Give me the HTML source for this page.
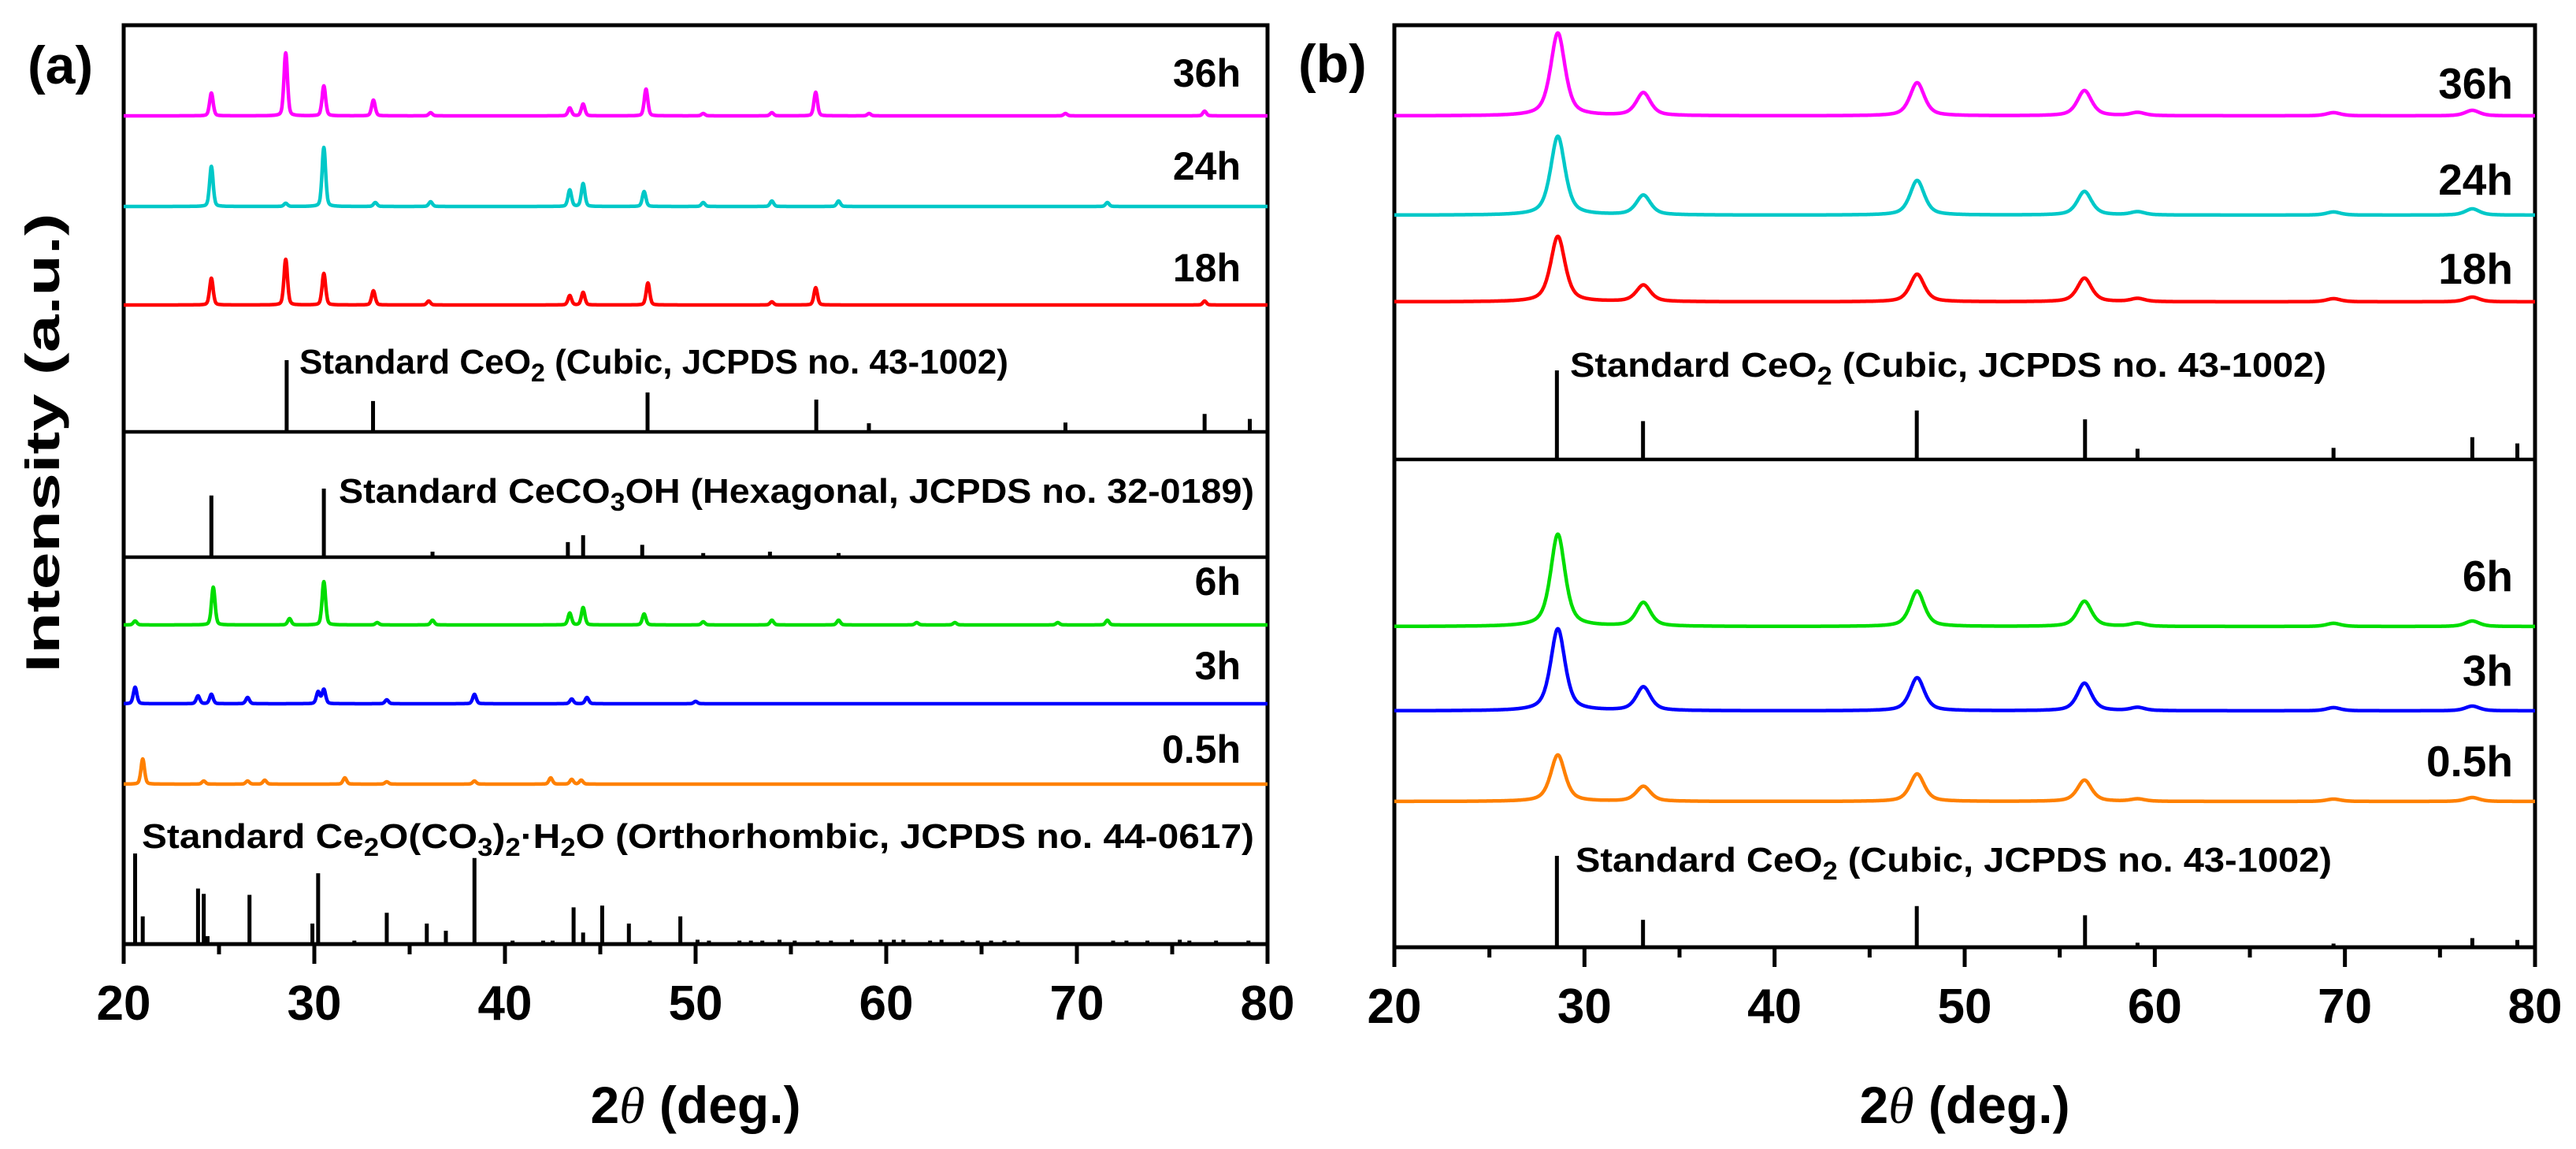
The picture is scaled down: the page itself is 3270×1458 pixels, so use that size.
<!DOCTYPE html>
<html><head><meta charset="utf-8"><style>
html,body{margin:0;padding:0;background:#fff;}
svg{display:block;font-family:"Liberation Sans",Arial,sans-serif;}
</style></head><body>
<svg id="fig" width="3270" height="1458" viewBox="0 0 3270 1458" xmlns="http://www.w3.org/2000/svg">
<rect width="3270" height="1458" fill="#fff"/>
<g id="layer"></g>
</svg>
<script>
// ---------- data ----------
const tickLabels = [20,30,40,50,60,70,80];
// panel (a) sample peaks: [2theta, intensity]
const a36 = [[24.6,29],[28.5,80],[30.5,38],[33.1,20],[36.1,4],[43.4,10],[44.1,15],[47.4,34],[50.4,3],[54.0,4],[56.3,30],[59.1,3],[69.4,3],[76.7,6]];
const a24 = [[24.6,51],[28.5,4],[30.5,75],[33.2,5],[36.1,6],[43.4,21],[44.1,29],[47.3,19],[50.4,5],[54.0,7],[57.5,7],[71.6,5]];
const a18 = [[24.6,34],[28.5,58],[30.5,40],[33.1,18],[36.0,5],[43.4,12],[44.1,16],[47.5,28],[54.0,4],[56.3,22],[76.7,5]];
const a6  = [[20.6,5],[24.7,48],[28.7,8],[30.5,55],[33.3,3],[36.2,6],[43.4,15],[44.1,22],[47.3,14],[50.4,4],[54.0,6],[57.5,6],[61.6,3],[63.6,3],[69.0,3],[71.6,6]];
const a3  = [[20.6,21],[23.9,10],[24.6,12],[26.5,8],[30.2,15],[30.5,18],[33.8,5],[38.4,12],[43.5,6],[44.3,8],[50.0,3]];
const a05 = [[21.0,32],[24.2,4],[26.5,4],[27.4,5],[31.6,8],[33.8,3],[38.4,4],[42.4,8],[43.5,6],[44.0,5]];
// panel (b) sample peaks
const b36 = [[28.6,105],[33.1,29],[47.5,42],[56.3,32],[59.1,4],[69.4,4],[76.7,7]];
const b24 = [[28.6,100],[33.1,25],[47.5,44],[56.3,30],[59.1,4],[69.4,4],[76.7,8]];
const b18 = [[28.6,83],[33.1,21],[47.5,35],[56.3,30],[59.1,4],[69.4,4],[76.7,6]];
const b6  = [[28.6,117],[33.1,30],[47.5,45],[56.3,32],[59.1,4],[69.4,4],[76.7,7]];
const b3  = [[28.6,104],[33.1,30],[47.5,42],[56.3,35],[59.1,4],[69.4,4],[76.7,6]];
const b05 = [[28.6,59],[33.1,19],[47.5,35],[56.3,27],[59.1,3],[69.4,3],[76.7,5]];
// reference sticks [2theta, relative intensity %]
const ceo2Sticks = [[28.55,100],[33.08,43],[47.48,55],[56.33,45],[59.09,12],[69.4,13],[76.7,25],[79.07,18]];
const ceo2SticksLow = [[28.55,100],[33.08,30],[47.48,45],[56.33,35],[59.09,5],[69.4,4],[76.7,10],[79.07,8]];
const cecoSticks = [[24.6,90],[30.5,100],[36.2,8],[43.3,22],[44.1,32],[47.2,18],[50.4,6],[53.9,8],[57.5,6]];
const orthoSticks = [[20.6,100],[21.0,30],[23.9,61],[24.2,55],[24.4,8],[26.6,54],[29.9,22],[30.2,78],[32.1,3],[33.8,34],[35.9,22],[36.9,14],[38.4,95],[40.4,3],[42.0,3],[42.5,3],[43.6,40],[44.1,12],[45.1,42],[46.5,22],[47.6,3],[49.2,30],[50.1,4],[50.7,3],[52.3,3],[52.9,3],[53.5,3],[54.4,4],[55.2,3],[56.4,3],[57.1,3],[58.2,4],[59.7,4],[60.4,4],[60.9,4],[62.3,3],[62.9,4],[64.0,3],[64.8,3],[65.5,3],[66.2,3],[66.9,3],[71.9,3],[72.6,3],[73.7,3],[75.4,4],[75.9,3],[77.3,3],[79.0,3]];

// ---------- layout ----------
const PA = {x0:157, x1:1609, top:32, bottom:1198};
const PB = {x0:1770, x1:3218, top:32, bottom:1202};
const NS = 'http://www.w3.org/2000/svg';
const layer = document.getElementById('layer');
function xs(p, v){ return p.x0 + (v-20)/60*(p.x1-p.x0); }
function mk(tag, attrs, parent){
  const e = document.createElementNS(NS, tag);
  for (const k in attrs) e.setAttribute(k, attrs[k]);
  (parent||layer).appendChild(e); return e;
}
function profile(peaks, t, fw, eta){
  let s=0;
  for (const [c,h] of peaks){
    const d=(t-c)/(fw/2);
    s += h*(eta/(1+d*d) + (1-eta)*Math.exp(-Math.LN2*d*d));
  }
  return s;
}
function trace(p, peaks, base, color, fw, eta, name){
  let d='';
  for (let t=20; t<=80.0001; t+=0.02){
    const y = base - profile(peaks,t,fw,eta);
    d += (d?'L':'M') + xs(p,t).toFixed(1) + ' ' + y.toFixed(1);
  }
  const e = mk('path',{d:d,fill:'none',stroke:color,'stroke-width':4.5,'stroke-linejoin':'round'});
  
  
}
function sticks(p, list, base, full, name){
  const g = mk('g',{});
  
  
  for (const [c,r] of list){
    const x = xs(p,c);
    const s = mk('line',{x1:x,x2:x,y1:base,y2:base-r/100*full,stroke:'#000','stroke-width':5},g);
    
    
  }
}
function label(x,y,txt,size,anchor,name,len){
  const a = {x:x,y:y,'font-size':size,'font-weight':'bold','text-anchor':anchor||'start',fill:'#000'};
  if (len){ a.textLength=len; a.lengthAdjust='spacingAndGlyphs'; }
  const e = mk('text',a); e.innerHTML = txt;
  
  
  return e;
}
function frame(p, name){
  const r = mk('rect',{x:p.x0,y:p.top,width:p.x1-p.x0,height:p.bottom-p.top,fill:'none',stroke:'#000','stroke-width':5});
  
  
  for (let v=20; v<=80; v+=5){
    const x = xs(p,v), major = v%10===0;
    const t = mk('line',{x1:x,x2:x,y1:p.bottom,y2:p.bottom+(major?25:13),stroke:'#000','stroke-width':5});
    
    
  }
  for (const v of tickLabels){
    label(xs(p,v), p.bottom+96, v, 62, 'middle', 'x-tick-label');
  }
  const tt = mk('text',{x:(p.x0+p.x1)/2,y:1425,'font-size':66,'font-weight':'bold','text-anchor':'middle'});
  tt.innerHTML = '2<tspan font-family="Liberation Serif, serif" font-style="italic" font-weight="normal">θ</tspan> (deg.)';
  
  
}
function hline(p,y,name){
  const l = mk('line',{x1:p.x0,x2:p.x1,y1:y,y2:y,stroke:'#000','stroke-width':4.5});
  
  
}

// ---------- panel (a) ----------
frame(PA,'panel-a-frame');
trace(PA,a36,147,'#ff00ff',0.22,0.3,'trace-a-36h');
trace(PA,a24,262,'#00c8c8',0.22,0.3,'trace-a-24h');
trace(PA,a18,387,'#ff0000',0.22,0.3,'trace-a-18h');
trace(PA,a6,793,'#00dd00',0.22,0.3,'trace-a-6h');
trace(PA,a3,893,'#0000ff',0.22,0.3,'trace-a-3h');
trace(PA,a05,995,'#ff8000',0.22,0.3,'trace-a-0.5h');
hline(PA,548,'divider-a-1'); hline(PA,707,'divider-a-2');
sticks(PA,ceo2Sticks,548,91,'ceo2-reference-a');
sticks(PA,cecoSticks,707,87,'ceco3oh-reference-a');
sticks(PA,orthoSticks,1197,114,'ce2o-co3-reference-a');
label(1575,110,'36h',50,'end','label-a-36h');
label(1575,228,'24h',50,'end','label-a-24h');
label(1575,357,'18h',50,'end','label-a-18h');
label(1575,755,'6h',50,'end','label-a-6h');
label(1575,862,'3h',50,'end','label-a-3h');
label(1575,968,'0.5h',50,'end','label-a-0.5h');
label(380,474,'Standard CeO<tspan font-size="32" dy="10">2</tspan><tspan dy="-10"> (Cubic, JCPDS no. 43-1002)</tspan>',44,'start','ceo2-label-a',900);
label(430,638,'Standard CeCO<tspan font-size="32" dy="10">3</tspan><tspan dy="-10">OH (Hexagonal, JCPDS no. 32-0189)</tspan>',44,'start','ceco3oh-label-a',1162);
label(180,1076,'Standard Ce<tspan font-size="32" dy="10">2</tspan><tspan dy="-10">O(CO</tspan><tspan font-size="32" dy="10">3</tspan><tspan dy="-10">)</tspan><tspan font-size="32" dy="10">2</tspan><tspan dy="-10">·H</tspan><tspan font-size="32" dy="10">2</tspan><tspan dy="-10">O (Orthorhombic, JCPDS no. 44-0617)</tspan>',44,'start','ce2o-co3-label-a',1412);
label(35,106,'(a)',68,'start','panel-a-label');
const yt = mk('text',{x:0,y:0,'font-size':60,'font-weight':'bold','text-anchor':'middle',transform:'translate(75 562) rotate(-90)',textLength:583,lengthAdjust:'spacingAndGlyphs'});
yt.textContent='Intensity (a.u.)';



// ---------- panel (b) ----------
frame(PB,'panel-b-frame');
trace(PB,b36,147,'#ff00ff',0.9,0.6,'trace-b-36h');
trace(PB,b24,273,'#00c8c8',0.9,0.6,'trace-b-24h');
trace(PB,b18,383,'#ff0000',0.9,0.6,'trace-b-18h');
trace(PB,b6,795,'#00dd00',0.9,0.6,'trace-b-6h');
trace(PB,b3,902,'#0000ff',0.9,0.6,'trace-b-3h');
trace(PB,b05,1017,'#ff8000',0.9,0.6,'trace-b-0.5h');
hline(PB,583,'divider-b');
sticks(PB,ceo2Sticks,583,113,'ceo2-reference-b-upper');
sticks(PB,ceo2SticksLow,1202,116,'ceo2-reference-b-lower');
label(3190,125,'36h',55,'end','label-b-36h');
label(3190,247,'24h',55,'end','label-b-24h');
label(3190,360,'18h',55,'end','label-b-18h');
label(3190,750,'6h',55,'end','label-b-6h');
label(3190,870,'3h',55,'end','label-b-3h');
label(3190,985,'0.5h',55,'end','label-b-0.5h');
label(1993,478,'Standard CeO<tspan font-size="32" dy="10">2</tspan><tspan dy="-10"> (Cubic, JCPDS no. 43-1002)</tspan>',44,'start','ceo2-label-b-upper',960);
label(2000,1106,'Standard CeO<tspan font-size="32" dy="10">2</tspan><tspan dy="-10"> (Cubic, JCPDS no. 43-1002)</tspan>',44,'start','ceo2-label-b-lower',960);
label(1648,104,'(b)',68,'start','panel-b-label');
</script>
</body></html>
